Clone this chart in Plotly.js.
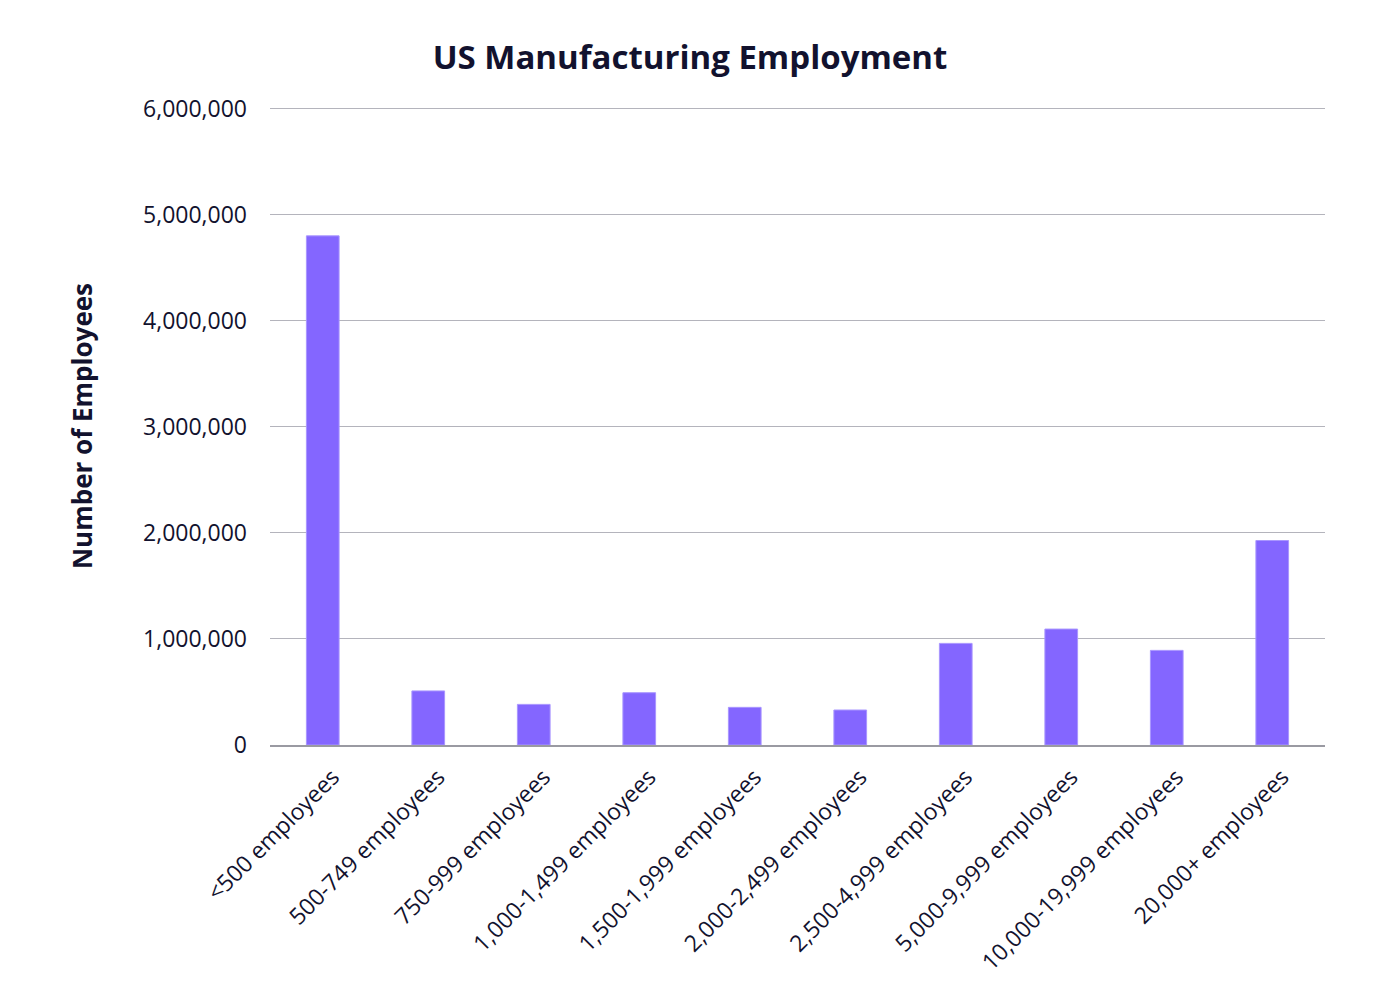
<!DOCTYPE html>
<html>
<head>
<meta charset="utf-8">
<script src="https://cdn.plot.ly/plotly-3.0.1.min.js"></script>
<style>html,body{margin:0;padding:0;background:#fff;}#chart{width:1380px;height:1000px;}</style>
</head>
<body>
<div id="chart"></div>
<script>
const categories = ["<500 employees","500-749 employees","750-999 employees","1,000-1,499 employees","1,500-1,999 employees","2,000-2,499 employees","2,500-4,999 employees","5,000-9,999 employees","10,000-19,999 employees","20,000+ employees"];
const employees = [4800000, 510000, 383000, 493000, 355000, 330000, 958000, 1093000, 892000, 1928000];
const yTicks = [0, 1000000, 2000000, 3000000, 4000000, 5000000, 6000000];
const yTickLabels = ["0","1,000,000","2,000,000","3,000,000","4,000,000","5,000,000","6,000,000"];

const textColor = "#12122e";
const font = "'Open Sans', Lato, sans-serif";

const trace = {
  type: "bar",
  x: categories,
  y: employees,
  marker: {color: "#8466ff", line: {color: "#a996ff", width: 1}},
  width: 0.31,
  hoverinfo: "x+y"
};

const layout = {
  width: 1380, height: 1000,
  margin: {l: 270, r: 55, t: 107, b: 255},
  paper_bgcolor: "#ffffff", plot_bgcolor: "#ffffff",
  font: {family: font, color: textColor, size: 23},
  title: {text: "<b>US Manufacturing Employment</b>", x: 0.5, xref: "container", xanchor: "center", y: 0.943, yref: "container", yanchor: "middle", font: {size: 33, family: font, color: textColor}},
  showlegend: false,
  xaxis: {
    type: "category",
    tickangle: -45,
    tickfont: {size: 23, color: textColor},
    showgrid: false,
    showline: true, linecolor: "#9a9aa2", linewidth: 1.5,
    ticks: "", ticklen: 0,
    ticklabelstandoff: 8,
    ticklabelshift: 10,
    automargin: false
  },
  yaxis: {
    range: [0, 6015000],
    tickvals: yTicks, ticktext: yTickLabels,
    tickfont: {size: 23, color: textColor},
    showgrid: true, gridcolor: "#b4b4bc", gridwidth: 1,
    zeroline: false,
    showline: false,
    ticks: "", ticklabelstandoff: 22,
    automargin: false,
    title: {text: "<b>Number of Employees</b>", font: {size: 26, color: textColor}, standoff: 42}
  }
};

Plotly.newPlot("chart", [trace], layout, {displayModeBar: false, staticPlot: true});
</script>
</body>
</html>
